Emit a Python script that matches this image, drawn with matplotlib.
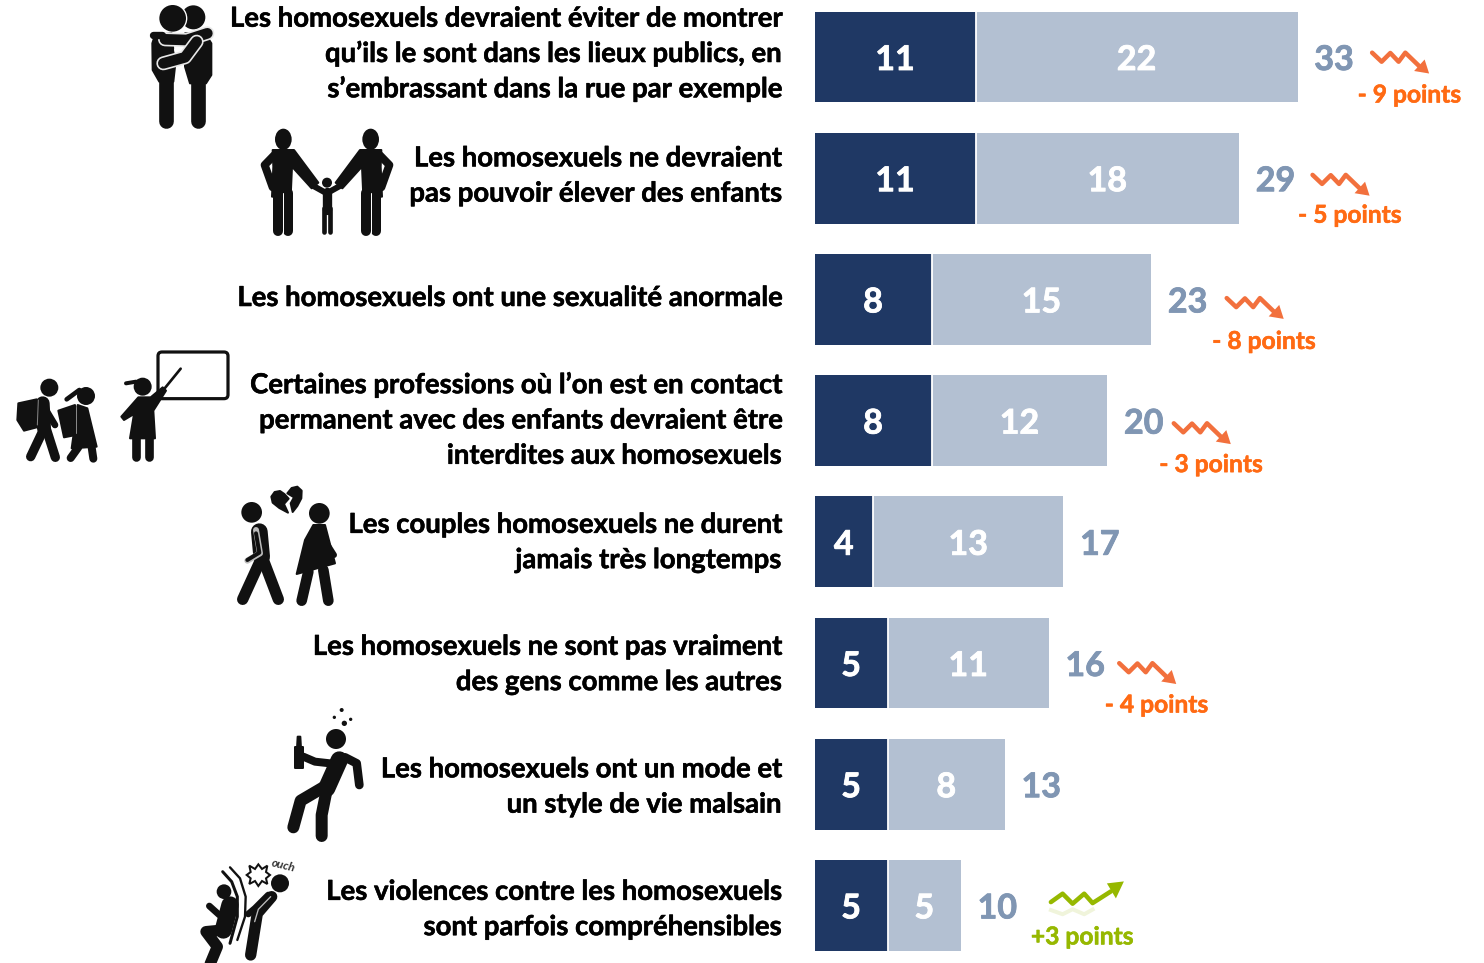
#!/usr/bin/env python3
"""Recreates the "opinions sur les homosexuels" stacked bars with pictograms."""

import matplotlib

matplotlib.use("Agg")
import matplotlib.patheffects as pe
import matplotlib.pyplot as plt
from matplotlib.patches import Circle, Ellipse, FancyBboxPatch, Polygon

# data
labels = [
    ["Les homosexuels devraient éviter de montrer",
     "qu’ils le sont dans les lieux publics, en",
     "s’embrassant dans la rue par exemple"],
    ["Les homosexuels ne devraient",
     "pas pouvoir élever des enfants"],
    ["Les homosexuels ont une sexualité anormale"],
    ["Certaines professions où l’on est en contact",
     "permanent avec des enfants devraient être",
     "interdites aux homosexuels"],
    ["Les couples homosexuels ne durent",
     "jamais très longtemps"],
    ["Les homosexuels ne sont pas vraiment",
     "des gens comme les autres"],
    ["Les homosexuels ont un mode et",
     "un style de vie malsain"],
    ["Les violences contre les homosexuels",
     "sont parfois compréhensibles"],
]
strong = [11, 11, 8, 8, 4, 5, 5, 5]
moderate = [22, 18, 15, 12, 13, 11, 8, 5]
totals = [33, 29, 23, 20, 17, 16, 13, 10]
trends = [-9, -5, -8, -3, None, -4, None, 3]

# layout, all in reference pixels
W, H = 1484, 963
BAR_X0 = 814.5
UNIT = 14.64
ROW0 = 57
ROW_STEP = 121.2
LABEL_CENTERS = [53, 175, 297, 419.5, 541.5, 663.5, 786, 908.5]
LINE_STEP = 35.3
LABEL_RIGHT = 781
# the arrows were placed by hand in the original, so each has its own nudge
TREND_DX = [0, -1, 1, -8, 0, -4, 0, 0]
TREND_DY = [0, 1, 3, 7, 0, 4.5, 0, 0]
TREND_TEXT_DY = [36, 35, 40, 42, 0, 40, 0, 29.5]

DARK = "#1F3864"
LIGHT = "#B3C0D2"
TOTAL_COL = "#8096B3"
ORANGE = "#FF6A13"
ORANGE_ARROW = "#F2703D"
GREEN = "#96B800"
INK = "#111111"

plt.rcParams["font.family"] = ["Lato", "DejaVu Sans"]
plt.rcParams["font.weight"] = "bold"


def fat(color, w=0.4):
    # Lato bold is lighter than the original face, thicken it a bit
    return [pe.withStroke(linewidth=w, foreground=color)]


fig = plt.figure(figsize=(W / 100, H / 100), dpi=100)

# bars live on a real value axis, x = percent, y = row index
ax = fig.add_axes([0, 0, 1, 1])
ax.set_xlim(-BAR_X0 / UNIT, (W - BAR_X0) / UNIT)
ax.set_ylim((H - ROW0) / ROW_STEP, -ROW0 / ROW_STEP)
ax.axis("off")

rows = list(range(len(strong)))
ax.barh(rows, strong, height=0.75, color=DARK, linewidth=0)
ax.barh(rows, moderate, left=strong, height=0.75, color=LIGHT, linewidth=0)
# thin white seam between both segments
ax.vlines(strong, [r - 0.375 for r in rows], [r + 0.375 for r in rows], color="white", lw=1.3)

for i in rows:
    ax.text(strong[i] / 2, i, str(strong[i]), color="white", fontsize=24.5, ha="center", va="center_baseline",
            path_effects=fat("white", 0.6))
    ax.text(strong[i] + moderate[i] / 2, i, str(moderate[i]), color="white", fontsize=24.5, ha="center",
            va="center_baseline", path_effects=fat("white", 0.6))
    ax.annotate(str(totals[i]), (totals[i], i), xytext=(12, 0), textcoords="offset points",
                color=TOTAL_COL, fontsize=24.5, ha="left", va="center_baseline", path_effects=fat(TOTAL_COL, 0.6))

# second layer in plain pixels, for the text column and the pictograms
px = fig.add_axes([0, 0, 1, 1])
px.set_xlim(0, W)
px.set_ylim(H, 0)
px.axis("off")
px.patch.set_alpha(0)


def pw(width):
    # pixel width to points
    return width * 0.72


def limb(pts, w, color=INK, ox=0, oy=0, s=1 / 3, cap="round"):
    xs = [ox + p[0] * s for p in pts]
    ys = [oy + p[1] * s for p in pts]
    px.plot(xs, ys, color=color, lw=pw(w * s), solid_capstyle=cap, solid_joinstyle="round")


def dot(x, y, r, ox=0, oy=0, s=1 / 3, color=INK):
    px.add_patch(Circle((ox + x * s, oy + y * s), r * s, color=color, lw=0))


def blob(pts, ox=0, oy=0, s=1 / 3, color=INK):
    px.add_patch(Polygon([(ox + p[0] * s, oy + p[1] * s) for p in pts], closed=True, fc=color, ec=color,
                         lw=pw(2), joinstyle="round"))


def icon_hug(ox=130, oy=0):
    o = dict(ox=ox, oy=oy)
    dot(190, 52, 36, **o)
    dot(128, 55, 44, color="white", **o)
    dot(128, 55, 40, **o)
    blob([(165, 100), (225, 100), (244, 130), (244, 225), (228, 250), (180, 250), (165, 200)], **o)
    limb([(203, 230), (203, 362)], 44, **o)
    blob([(75, 105), (125, 100), (135, 200), (130, 245), (88, 245), (68, 210), (67, 130)], **o)
    limb([(108, 230), (108, 362)], 44, **o)
    blob([(135, 148), (150, 148), (141, 170)], color="white", **o)
    limb([(105, 118), (170, 120), (232, 100)], 42, color="#e8e8e8", **o)
    limb([(105, 118), (170, 120), (232, 100)], 32, **o)
    limb([(100, 190), (165, 172), (200, 125)], 42, color="#e8e8e8", **o)
    limb([(100, 190), (165, 172), (200, 125)], 32, **o)
    limb([(70, 105), (95, 105)], 22, **o)


def icon_family(ox=130, oy=0):
    o = dict(ox=ox, oy=oy)
    for m in (0, 1):
        f = (lambda x: 1182 - x) if m else (lambda x: x)
        px.add_patch(Ellipse((ox + f(460) / 3, oy + 418 / 3), 50 / 3, 64 / 3, color=INK, lw=0))
        blob([(f(x), y) for x, y in [(428, 450), (492, 450), (565, 548), (545, 565), (486, 500), (482, 590),
                                     (426, 590), (430, 500)]], **o)
        limb([(f(436), 462), (f(404), 495), (f(428), 562)], 24, **o)
        limb([(f(443), 580), (f(443), 692)], 30, **o)
        limb([(f(473), 580), (f(473), 692)], 30, **o)
        limb([(f(458), 580), (f(458), 700)], 3, color="white", **o)
    dot(591, 548, 15, **o)
    limb([(545, 555), (590, 580), (635, 555)], 18, **o)
    limb([(591, 575), (591, 630)], 28, **o)
    limb([(583, 625), (583, 695)], 14, **o)
    limb([(599, 625), (599, 695)], 14, **o)


def icon_school(ox=0, oy=340):
    o = dict(ox=ox, oy=oy)
    px.add_patch(FancyBboxPatch((ox + 474 / 3, oy + 36 / 3), 210 / 3, 140 / 3,
                                boxstyle="round,pad=0,rounding_size=4", fc="white", ec=INK, lw=pw(3.2)))
    limb([(490, 150), (542, 86)], 8, **o)
    # teacher
    dot(428, 140, 27, **o)
    limb([(378, 130), (408, 125)], 12, **o)
    blob([(415, 172), (452, 172), (488, 142), (498, 152), (460, 212), (465, 295), (390, 295), (402, 222),
          (372, 240), (364, 230)], **o)
    limb([(409, 290), (409, 352)], 26, **o)
    limb([(446, 290), (446, 352)], 26, **o)
    # boy
    dot(148, 143, 27, **o)
    blob([(55, 190), (110, 178), (118, 260), (72, 272), (52, 240)], **o)
    limb([(128, 190), (132, 265)], 42, **o)
    limb([(130, 270), (92, 350)], 28, **o)
    limb([(140, 270), (166, 352)], 28, **o)
    limb([(135, 205), (165, 255)], 20, **o)
    limb([(115, 180), (112, 255)], 3, color="#888888", **o)
    # girl
    dot(258, 168, 27, **o)
    limb([(200, 178), (238, 150)], 14, **o)
    blob([(175, 212), (225, 195), (228, 285), (192, 292)], **o)
    blob([(233, 195), (262, 205), (290, 320), (215, 325)], **o)
    limb([(235, 322), (212, 354)], 24, **o)
    limb([(275, 322), (280, 356)], 24, **o)
    limb([(250, 225), (268, 268)], 18, **o)
    limb([(228, 200), (228, 280)], 3, color="#888888", **o)


def icon_breakup(ox=0, oy=340):
    o = dict(ox=ox, oy=oy)
    # broken heart, two halves
    blob([(853, 462), (840, 453), (824, 456), (814, 470), (818, 488), (838, 504), (864, 518), (852, 492), (866, 476)], **o)
    blob([(862, 460), (875, 444), (892, 440), (905, 452), (904, 475), (892, 498), (878, 516), (872, 490), (882, 472)], **o)
    # man
    dot(755, 517, 31, **o)
    limb([(778, 575), (785, 650)], 50, **o)
    limb([(782, 660), (728, 778)], 34, **o)
    limb([(790, 660), (835, 778)], 34, **o)
    limb([(768, 570), (780, 640), (742, 662)], 18, color="#bbbbbb", **o)
    limb([(768, 580), (778, 638), (742, 660)], 12, **o)
    # woman
    dot(958, 520, 31, **o)
    blob([(940, 555), (975, 555), (1005, 670), (890, 702), (915, 600)], **o)
    limb([(925, 695), (905, 782)], 32, **o)
    limb([(970, 690), (985, 782)], 32, **o)
    limb([(962, 582), (1002, 645)], 18, **o)


def icon_drunk(ox=180, oy=700):
    o = dict(ox=ox, oy=oy)
    for x, y, r in [(485, 30, 6), (463, 52, 5), (493, 70, 8), (512, 58, 5)]:
        dot(x, y, r, **o)
    dot(468, 117, 30, **o)
    limb([(478, 180), (440, 265)], 52, **o)
    limb([(495, 172), (530, 190), (538, 255)], 26, **o)
    limb([(450, 190), (405, 185), (370, 170)], 24, **o)
    blob([(345, 140), (370, 140), (370, 205), (345, 205)], **o)
    blob([(353, 110), (361, 110), (363, 145), (351, 145)], **o)
    limb([(430, 262), (362, 302), (340, 382)], 36, **o)
    limb([(440, 270), (425, 345), (425, 408)], 36, **o)


def icon_ouch(ox=180, oy=700):
    o = dict(ox=ox, oy=oy)
    dot(132, 575, 22, **o)
    limb([(150, 615), (130, 690)], 52, **o)
    limb([(118, 645), (88, 618)], 20, **o)
    limb([(130, 690), (78, 695), (112, 740), (85, 805)], 34, **o)
    limb([(128, 515), (155, 545), (172, 590), (172, 650), (150, 730)], 9, **o)
    limb([(150, 502), (180, 535), (197, 590), (195, 650), (172, 720)], 7, **o)
    # bang
    star = [(235, 493), (246, 507), (262, 497), (258, 516), (270, 525), (258, 535), (262, 552),
            (246, 543), (235, 558), (225, 543), (208, 552), (212, 535), (200, 525), (212, 516), (208, 497), (225, 507)]
    px.add_patch(Polygon([(ox + x / 3, oy + y / 3) for x, y in star], closed=True, fc="white", ec=INK, lw=pw(2)))
    # person hit
    dot(300, 550, 27, **o)
    limb([(275, 590), (232, 640), (212, 765)], 34, **o)
    limb([(265, 585), (225, 625), (205, 642)], 20, **o)
    limb([(272, 590), (235, 628), (224, 665)], 4, color="#bbbbbb", **o)
    px.text(ox + 310 / 3, oy + 497 / 3, "ouch", fontsize=8.5, style="italic",
            color="#333333", rotation=-14, ha="center", va="center")


def trend_glyph(bar_end, row_y, value):
    # small zigzag arrow next to the total, offsets are taken from the reference
    if value < 0:
        steps = [(74.5, -4.3), (84, 4.7), (92.7, -4), (101, 4.7), (107.7, -4.3), (122, 9.5)]
        tip = [(131.5, 16.5), (116.5, 14), (127, 2.5)]
        col = ORANGE_ARROW
    else:
        steps = [(90, -3.3), (101.7, -11.7), (111.7, -1.7), (123.3, -11.7), (131.7, -2.3), (150, -14)]
        tip = [(163, -24), (146, -22), (155, -7)]
        col = GREEN
        # pale reflection under the green arrow
        px.plot([bar_end + dx for dx, dy in steps[:5]], [row_y - dy * 0.5 + 3 for dx, dy in steps[:5]],
                color=col, alpha=0.14, lw=pw(4), solid_joinstyle="round")
    px.plot([bar_end + dx for dx, dy in steps], [row_y + dy for dx, dy in steps],
            color=col, lw=pw(4.5), solid_capstyle="round", solid_joinstyle="round")
    px.add_patch(Polygon([(bar_end + dx, row_y + dy) for dx, dy in tip], closed=True, color=col, lw=0))


# text column
for i, lines in enumerate(labels):
    y0 = LABEL_CENTERS[i] - LINE_STEP * (len(lines) - 1) / 2
    for j, line in enumerate(lines):
        px.text(LABEL_RIGHT, y0 + j * LINE_STEP + 9, line, color="black", fontsize=19.8,
                ha="right", va="baseline", path_effects=fat("black"))

# variation next to each total
for i, v in enumerate(trends):
    if v is None:
        continue
    bar_end = BAR_X0 + totals[i] * UNIT + TREND_DX[i]
    row_y = ROW0 + i * ROW_STEP + TREND_DY[i]
    trend_glyph(bar_end, row_y, v)
    text_y = ROW0 + i * ROW_STEP + TREND_TEXT_DY[i]
    if v < 0:
        px.text(bar_end + 60, text_y, f"- {abs(v)} points", color=ORANGE, fontsize=17.7, ha="left",
                va="center_baseline", path_effects=fat(ORANGE))
    else:
        px.text(bar_end + 70, text_y, f"+{v} points", color=GREEN, fontsize=17.7, ha="left",
                va="center_baseline", path_effects=fat(GREEN))

icon_hug()
icon_family()
icon_school()
icon_breakup()
icon_drunk()
icon_ouch()

fig.savefig("out.png", dpi=100)
plt.close(fig)
